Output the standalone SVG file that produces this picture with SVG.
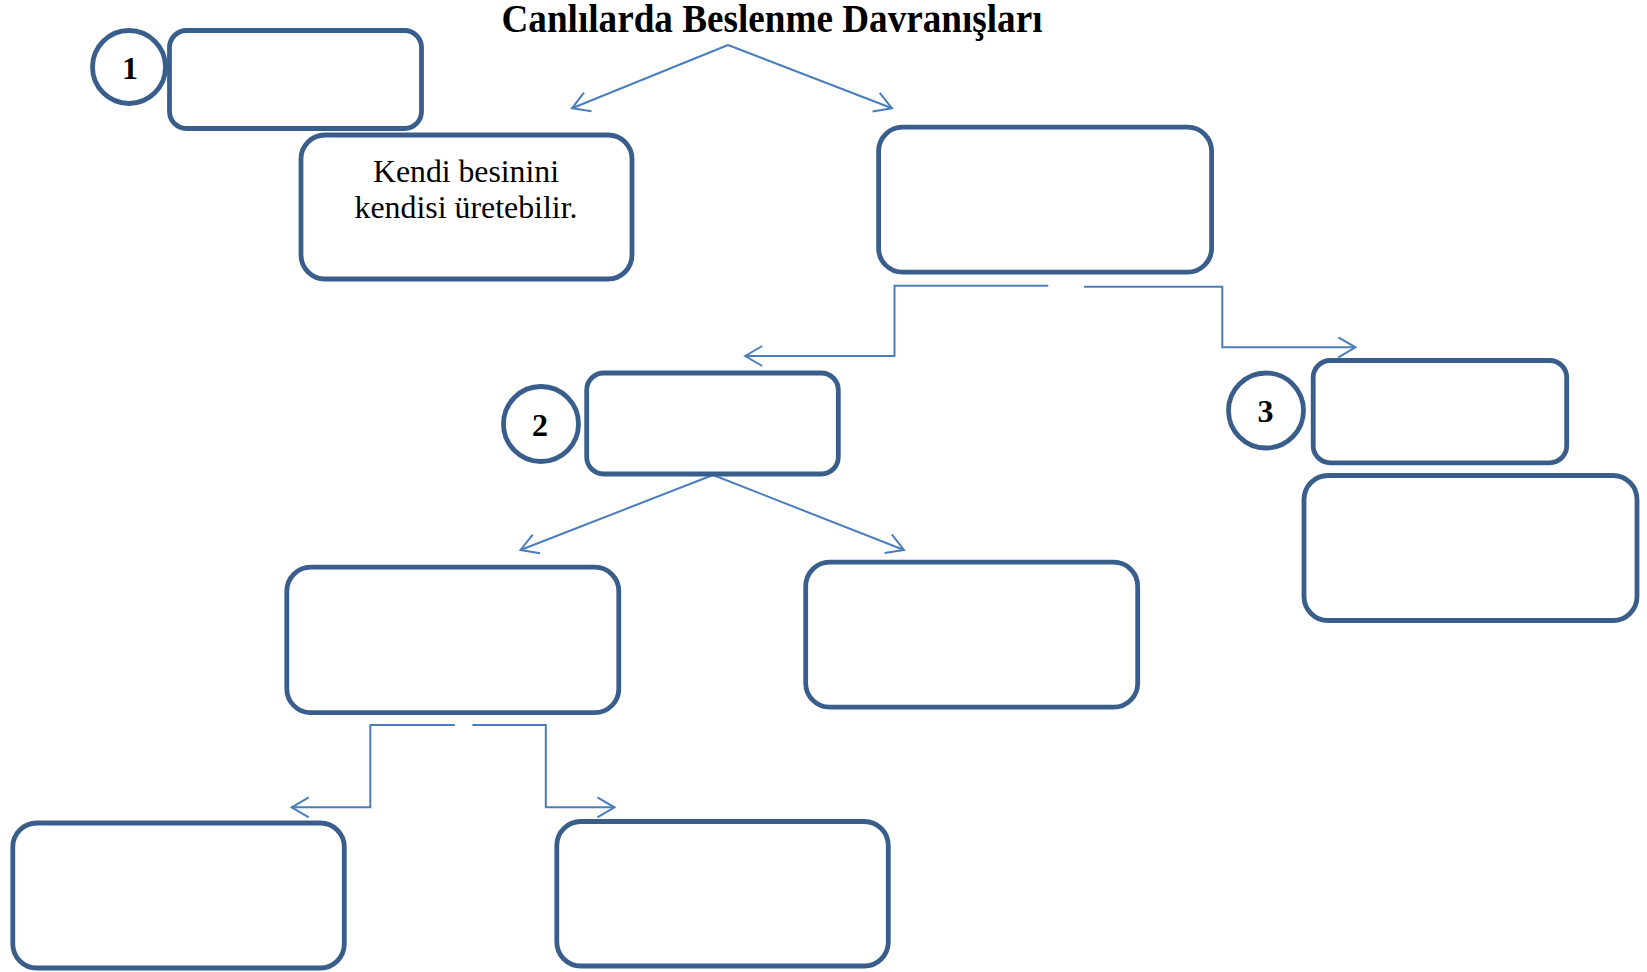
<svg xmlns="http://www.w3.org/2000/svg" width="1647" height="972" viewBox="0 0 1647 972">
  <style>
    .box { fill: #ffffff; stroke: #3a5e8c; stroke-width: 4.8; }
    .num { fill: #ffffff; stroke: #3a5e8c; stroke-width: 4.8; }
    .conn { fill: none; stroke: #4a7ebb; stroke-width: 2; marker-end: url(#open); }
    .title { font-family: "Liberation Serif", "Times New Roman", serif; font-weight: bold; font-size: 39px; fill: #000; }
    .label { font-family: "Liberation Serif", "Times New Roman", serif; font-size: 31px; fill: #000; }
    .digit { font-family: "Liberation Serif", "Times New Roman", serif; font-weight: bold; font-size: 32px; fill: #000; }
  </style>
  <defs>
    <marker id="open" markerUnits="userSpaceOnUse" viewBox="-19 -12 21 24" markerWidth="21" markerHeight="24" refX="0" refY="0" orient="auto">
      <path d="M-17,-10 L0,0 L-17,10" fill="none" stroke="#4a7ebb" stroke-width="2"/>
    </marker>
  </defs>
  <rect width="1647" height="972" fill="#ffffff"/>

  <text class="title" x="772" y="32" text-anchor="middle" textLength="541" lengthAdjust="spacingAndGlyphs">Canlılarda Beslenme Davranışları</text>

  <!-- connectors: diagonal splits and elbow branches -->
  <g id="connectors">
    <path class="conn" d="M728,45 L572,108.3"/>
    <path class="conn" d="M728,45 L892,108.3"/>
    <path class="conn" d="M1048.3,285.7 H894.5 V356 H745.2"/>
    <path class="conn" d="M1083.9,286.7 H1222.3 V347.3 H1355.4"/>
    <path class="conn" d="M713,475 L520.5,550"/>
    <path class="conn" d="M713,475 L904,550"/>
    <path class="conn" d="M454.8,725 H370.3 V807.3 H291.7"/>
    <path class="conn" d="M472.4,725 H545.8 V807.3 H614.4"/>
  </g>

  <g id="node-1">
    <rect class="box" x="169.5" y="30.5" width="252" height="98" rx="17"/>
  </g>
  <g id="badge-1">
    <circle class="num" cx="129" cy="67" r="36.5"/>
    <text class="digit" x="130" y="78.5" text-anchor="middle">1</text>
  </g>

  <g id="node-autotroph">
    <rect class="box" x="301" y="135" width="331" height="144" rx="24"/>
    <text class="label" x="466" y="181.7" text-anchor="middle" textLength="186" lengthAdjust="spacingAndGlyphs">Kendi besinini</text>
    <text class="label" x="466" y="218.3" text-anchor="middle" textLength="223" lengthAdjust="spacingAndGlyphs">kendisi üretebilir.</text>
  </g>

  <g id="node-heterotroph">
    <rect class="box" x="878.6" y="127.2" width="333" height="145" rx="24"/>
  </g>

  <g id="node-2">
    <rect class="box" x="586.7" y="373" width="251.6" height="101" rx="17"/>
  </g>
  <g id="badge-2">
    <circle class="num" cx="541" cy="424" r="37.5"/>
    <text class="digit" x="540" y="436" text-anchor="middle">2</text>
  </g>

  <g id="node-3">
    <rect class="box" x="1313.2" y="360.5" width="253.5" height="102.3" rx="17"/>
  </g>
  <g id="badge-3">
    <circle class="num" cx="1266" cy="410.5" r="37.5"/>
    <text class="digit" x="1265.5" y="422" text-anchor="middle">3</text>
  </g>

  <g id="node-3-detail">
    <rect class="box" x="1304" y="475.5" width="333" height="145" rx="24"/>
  </g>

  <g id="node-2-left">
    <rect class="box" x="286.8" y="567.2" width="332" height="145.5" rx="24"/>
  </g>

  <g id="node-2-right">
    <rect class="box" x="805.7" y="562.2" width="332" height="145" rx="24"/>
  </g>

  <g id="node-2-left-a">
    <rect class="box" x="12.8" y="823" width="331.5" height="145" rx="24"/>
  </g>

  <g id="node-2-left-b">
    <rect class="box" x="556.8" y="821.5" width="331.5" height="144.5" rx="24"/>
  </g>
</svg>
